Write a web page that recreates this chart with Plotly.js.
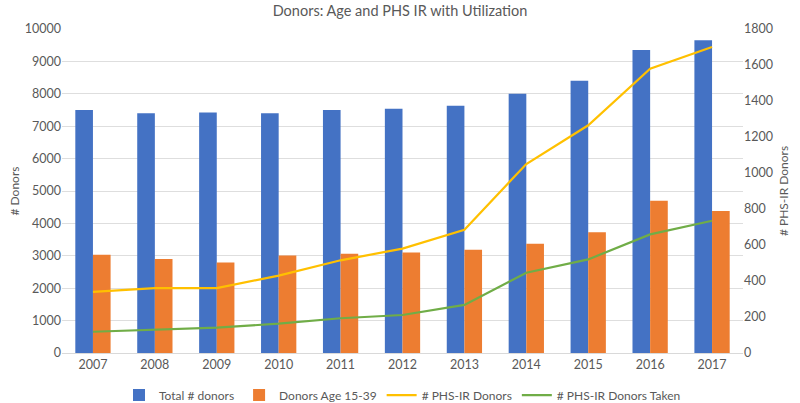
<!DOCTYPE html>
<html>
<head>
<meta charset="utf-8">
<script src="https://cdn.plot.ly/plotly-3.0.1.min.js"></script>
<style>html,body{margin:0;padding:0;background:#fff;}#chart{width:800px;height:403px;}</style>
</head>
<body>
<div id="chart"></div>
<script>
const years = ['2007','2008','2009','2010','2011','2012','2013','2014','2015','2016','2017'];
const totalDonors = [7500, 7400, 7420, 7400, 7500, 7540, 7630, 8000, 8400, 9350, 9650];
const donorsAge1539 = [3030, 2900, 2790, 3010, 3060, 3100, 3190, 3370, 3730, 4700, 4380];
const phsIrDonors = [340, 360, 360, 430, 515, 580, 685, 1050, 1265, 1580, 1700];
const phsIrTaken = [118, 131, 141, 163, 193, 211, 267, 446, 520, 659, 735];
const leftTicks = [0,1000,2000,3000,4000,5000,6000,7000,8000,9000,10000];
const leftTickText = ['0','1000','2000','3000','4000','5000','6000','7000','8000','9000','10000'];
const rightTicks = [0,200,400,600,800,1000,1200,1400,1600,1800];
const rightTickText = ['0','200','400','600','800','1000','1200','1400','1600','1800'];

const font = 'Lato, "Open Sans", sans-serif';
const data = [
  {type:'bar', name:'Total # donors', x:years, y:totalDonors, marker:{color:'#4472C4'}},
  {type:'bar', name:'Donors Age 15-39', x:years, y:donorsAge1539, marker:{color:'#ED7D31'}},
  {type:'scatter', mode:'lines', name:'# PHS-IR Donors', x:years, y:phsIrDonors, yaxis:'y2', line:{color:'#FFC000', width:2.2}},
  {type:'scatter', mode:'lines', name:'# PHS-IR Donors Taken', x:years, y:phsIrTaken, yaxis:'y2', line:{color:'#70AD47', width:2.2}}
];
const layout = {
  width:800, height:403,
  margin:{l:62, r:57, t:29, b:50, autoexpand:false},
  paper_bgcolor:'#fff', plot_bgcolor:'#fff',
  font:{family:font, color:'#595959', size:12},
  title:{text:'Donors: Age and PHS IR with Utilization', x:0.5, xanchor:'center', y:0.985, yanchor:'top', font:{family:font, size:14.5, color:'#595959'}},
  barmode:'group', bargap:0.43, bargroupgap:0,
  xaxis:{type:'category', tickvals:years, ticktext:years, showgrid:false, showline:true, linecolor:'#d9d9d9', ticks:'', tickfont:{size:12.5, color:'#595959'}},
  yaxis:{range:[0,10000], tickvals:leftTicks, ticktext:leftTickText, showgrid:true, gridcolor:'#dedede', zeroline:false, ticks:'', automargin:false,
    title:{text:'# Donors', font:{size:12, color:'#595959'}, standoff:2}, tickfont:{size:12.5, color:'#595959'}},
  yaxis2:{range:[0,1800], tickvals:rightTicks, ticktext:rightTickText, overlaying:'y', side:'right', showgrid:false, zeroline:false, ticks:'', automargin:false,
    title:{text:'# PHS-IR Donors', font:{size:12, color:'#595959'}, standoff:7}, tickfont:{size:12.5, color:'#595959'}},
  showlegend:true,
  legend:{orientation:'h', x:0.5, xanchor:'center', y:-0.13, yanchor:'middle', font:{size:12, color:'#595959'}, traceorder:'normal'}
};
Plotly.newPlot('chart', data, layout, {displayModeBar:false, staticPlot:true});
</script>
</body>
</html>
